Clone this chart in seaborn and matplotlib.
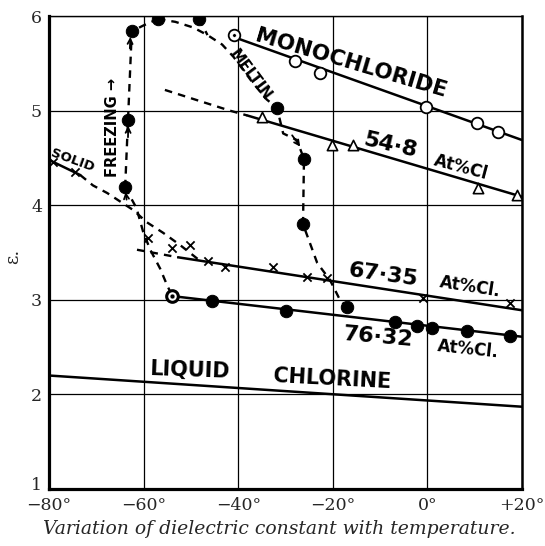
import matplotlib
matplotlib.use("Agg")
import matplotlib.pyplot as plt
import matplotlib.transforms as mtransforms
import seaborn as sns

# monochloride, open circles and the ruled line through them
mono_t = [-40.9, -28.0, -22.7, -0.3, 10.5, 14.9]
mono_e = [5.80, 5.53, 5.40, 5.04, 4.87, 4.77]
mono_fit_t = [-41.0, 20.0]
mono_fit_e = [5.78, 4.69]

# 54.8 At% Cl, triangles
tri_t = [-35.0, -20.2, -15.7, 10.7, 19.0]
tri_e = [4.93, 4.64, 4.64, 4.18, 4.11]
tri_fit_t = [-38.1, 20.0]
tri_fit_e = [4.95, 4.09]

# 67.35 At% Cl, crosses
cross_t = [-59.0, -54.0, -50.2, -46.4, -42.8, -32.6, -25.5, -21.2, -0.9, 17.5]
cross_e = [3.65, 3.55, 3.58, 3.41, 3.35, 3.35, 3.24, 3.23, 3.02, 2.97]
cross_fit_t = [-52.7, 20.0]
cross_fit_e = [3.45, 2.89]
cross_ext_t = [-61.4, -52.7]
cross_ext_e = [3.53, 3.45]

# 76.32 At% Cl, filled dots
dot_t = [-54.0, -45.5, -29.9, -6.9, -2.2, 1.0, 8.4, 17.5]
dot_e = [3.04, 2.99, 2.88, 2.77, 2.72, 2.70, 2.67, 2.62]
dot_fit_t = [-54.0, 20.0]
dot_fit_e = [3.04, 2.61]

# liquid chlorine
liq_t = [-80.0, 20.0]
liq_e = [2.20, 1.87]

# solid
solid_t = [-79.2, -74.5]
solid_e = [4.46, 4.35]
solid_fit_t = [-80.0, -73.4]
solid_fit_e = [4.48, 4.32]
solid_cool_t = [-73.4, -70.7, -67.7, -62.2, -59.3, -55.9, -52.3, -48.5]
solid_cool_e = [4.32, 4.21, 4.13, 3.95, 3.82, 3.71, 3.58, 3.43]

# freezing / melting path (filled dots)
path_dot_t = [-63.9, -63.3, -62.5, -57.0, -48.3, -31.8, -26.1, -26.3, -17.0]
path_dot_e = [4.19, 4.90, 5.84, 5.97, 5.97, 5.03, 4.49, 3.80, 2.92]

freeze_t = [-63.9, -63.3, -62.5, -60.1, -57.0]
freeze_e = [4.19, 4.90, 5.84, 5.90, 5.97]

melt_t = [-57.0, -53.3, -49.5, -46.5, -43.4, -41.0, -37.0, -34.0, -31.8,
          -30.5, -27.6, -26.1, -26.3, -23.3, -20.6, -18.5, -17.0]
melt_e = [5.97, 5.94, 5.88, 5.80, 5.70, 5.57, 5.30, 5.12, 5.03,
          4.76, 4.69, 4.49, 3.80, 3.39, 3.21, 3.00, 2.92]
melt2_t = [-48.3, -47.0, -46.5]
melt2_e = [5.97, 5.85, 5.80]

upper_t = [-55.5, -41.7, -38.1]
upper_e = [5.22, 5.00, 4.95]

drop_t = [-63.9, -61.5, -60.1, -58.6, -56.5, -55.0, -54.0]
drop_e = [4.19, 3.97, 3.72, 3.53, 3.33, 3.15, 3.05]

# small arrows along the freezing path: start and end
arrow_from = [(-62.9, 5.66), (-63.3, 4.72), (-63.6, 4.06), (-28.6, 4.74)]
arrow_to = [(-62.8, 5.78), (-63.25, 4.84), (-63.8, 4.14), (-26.9, 4.62)]

xticks = [-80, -60, -40, -20, 0, 20]
xlabels = ["\u221280\u00b0", "\u221260\u00b0", "\u221240\u00b0", "\u221220\u00b0", "0\u00b0", "+20\u00b0"]
yticks = [1, 2, 3, 4, 5, 6]

sns.set_style("white")
fig = plt.figure(figsize=(5.45, 5.46), dpi=100)
ax = fig.add_axes([0.0899, 0.1044, 0.868, 0.866])

dash = (0, (3.2, 2.6))
solid_kw = dict(color="black", lw=1.8, estimator=None, sort=False, ax=ax, legend=False)
dash_kw = dict(color="black", lw=1.7, estimator=None, sort=False, ax=ax, legend=False,
               linestyle=dash)

for tx, ey in [(mono_fit_t, mono_fit_e), (tri_fit_t, tri_fit_e), (cross_fit_t, cross_fit_e),
               (dot_fit_t, dot_fit_e), (liq_t, liq_e), (solid_fit_t, solid_fit_e)]:
    sns.lineplot(x=tx, y=ey, **solid_kw)

for tx, ey in [(cross_ext_t, cross_ext_e), (solid_cool_t, solid_cool_e), (freeze_t, freeze_e),
               (melt_t, melt_e), (melt2_t, melt2_e), (upper_t, upper_e), (drop_t, drop_e)]:
    sns.lineplot(x=tx, y=ey, **dash_kw)

sns.scatterplot(x=mono_t, y=mono_e, marker="o", s=70, facecolor="white",
                edgecolor="black", linewidth=1.3, zorder=4, ax=ax)
sns.scatterplot(x=mono_t[:1], y=mono_e[:1], marker="o", s=6, color="black", zorder=5, ax=ax)
sns.scatterplot(x=tri_t, y=tri_e, marker="^", s=55, facecolor="white",
                edgecolor="black", linewidth=1.2, zorder=4, ax=ax)
sns.scatterplot(x=cross_t + solid_t, y=cross_e + solid_e, marker="x", s=35,
                color="black", linewidth=1.3, zorder=4, ax=ax)
sns.scatterplot(x=dot_t[1:] + path_dot_t, y=dot_e[1:] + path_dot_e, marker="o", s=80,
                color="black", edgecolor="black", zorder=4, ax=ax)
sns.scatterplot(x=dot_t[:1], y=dot_e[:1], marker="o", s=70, facecolor="white",
                edgecolor="black", linewidth=2.2, zorder=4, ax=ax)
sns.scatterplot(x=dot_t[:1], y=dot_e[:1], marker="o", s=12, color="black", zorder=5, ax=ax)

for (x0, y0), (x1, y1) in zip(arrow_from, arrow_to):
    ax.annotate("", xy=(x1, y1), xytext=(x0, y0),
                arrowprops=dict(arrowstyle="->", lw=1.3, color="black",
                                mutation_scale=9, shrinkA=0, shrinkB=0))

ax.set_xlim(-80, 20)
ax.set_ylim(1, 6)
ax.set_xticks(xticks)
ax.set_xticklabels(xlabels)
ax.set_yticks(yticks)
ax.set_yticklabels([str(v) for v in yticks])
ax.grid(True, color="black", lw=0.9)
ax.tick_params(length=0, labelsize=12.5)
ax.tick_params(axis="x", pad=6)
ax.tick_params(axis="y", pad=5)
for lab in ax.get_xticklabels() + ax.get_yticklabels():
    lab.set_family("DejaVu Serif")
# the bottom "1" sits a little higher in the original, clear of "-80°"
first = ax.get_yticklabels()[0]
first.set_transform(first.get_transform() +
                    mtransforms.ScaledTranslation(0, 4 / 72, fig.dpi_scale_trans))
ax.set_xlabel("")
ax.set_ylabel("")
for side, w in [("left", 2.3), ("bottom", 2.3), ("top", 1.0), ("right", 1.8)]:
    ax.spines[side].set_linewidth(w)
    ax.spines[side].set_color("black")

lab_kw = dict(family="DejaVu Sans", weight="bold", ha="center", va="center",
              rotation_mode="anchor", color="black", zorder=6)
ax.text(-16.2, 5.50, "MONOCHLORIDE", fontsize=15.5, rotation=-16.5, **lab_kw)
ax.text(-7.9, 4.63, "54\u00b78", fontsize=16, rotation=-13, **lab_kw)
ax.text(7.1, 4.40, "At%Cl", fontsize=12, rotation=-15, **lab_kw)
ax.text(-9.4, 3.26, "67\u00b735", fontsize=16, rotation=-8, **lab_kw)
ax.text(9.0, 3.14, "At%Cl.", fontsize=12, rotation=-9, **lab_kw)
ax.text(-10.4, 2.61, "76\u00b732", fontsize=16, rotation=-5, **lab_kw)
ax.text(8.6, 2.48, "At%Cl.", fontsize=12, rotation=-6, **lab_kw)
ax.text(-50.2, 2.25, "LIQUID", fontsize=15, rotation=-2, **lab_kw)
ax.text(-20.2, 2.16, "CHLORINE", fontsize=15, rotation=-3, **lab_kw)
ax.text(-37.5, 5.38, "MELTIN", fontsize=10.5, rotation=-53, **lab_kw)
ax.text(-75.1, 4.47, "SOLID", fontsize=9.5, rotation=-20, **lab_kw)
ax.text(-66.5, 4.82, "FREEZING \u2192", fontsize=10.5, rotation=90, **lab_kw)

fig.text(13 / 545, 1 - 256 / 546, "\u03b5.", fontsize=13, family="DejaVu Serif",
         rotation=90, ha="center", va="center")
fig.text(0.513, 1 - 529 / 546, "Variation of dielectric constant with temperature.",
         fontsize=13.5, family="DejaVu Serif", style="italic", ha="center", va="center")

fig.savefig("out.png", dpi=100)
